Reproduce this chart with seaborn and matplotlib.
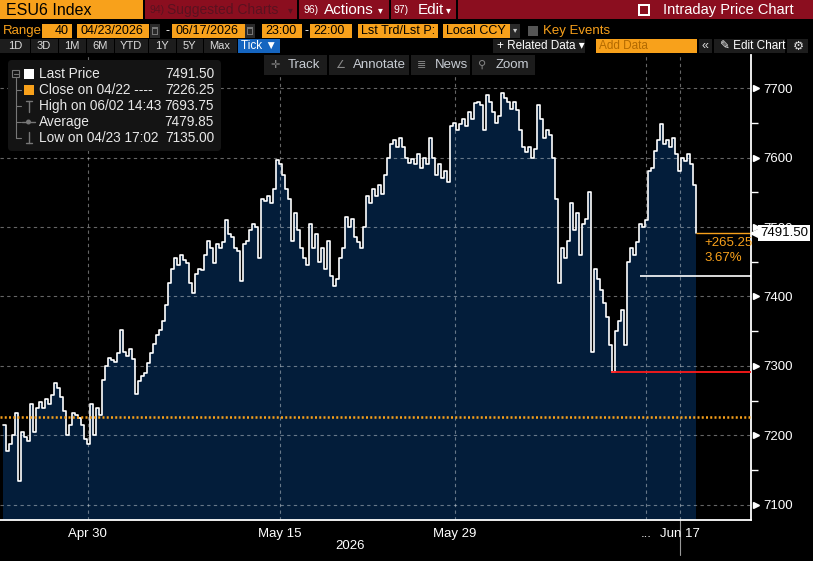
import matplotlib
matplotlib.use("Agg")
import matplotlib.pyplot as plt
from matplotlib.patches import Rectangle, Circle, FancyBboxPatch
import seaborn as sns
import pandas as pd

# tick-by-tick ESU6 prices (one value every ~3 px)
price = [
    7215, 7178, 7188, 7200, 7232, 7135, 7205, 7198, 7192, 7245,
    7205, 7240, 7248, 7240, 7252, 7245, 7258, 7275, 7268, 7255,
    7235, 7200, 7215, 7232, 7230, 7225, 7215, 7195, 7188, 7245,
    7200, 7240, 7230, 7280, 7300, 7312, 7308, 7306, 7318, 7352,
    7320, 7315, 7325, 7310, 7260, 7278, 7285, 7290, 7305, 7318,
    7332, 7345, 7352, 7365, 7388, 7420, 7440, 7455, 7445, 7460,
    7452, 7448, 7420, 7405, 7432, 7440, 7438, 7460, 7480, 7470,
    7448, 7475, 7470, 7478, 7510, 7490, 7485, 7470, 7465, 7422,
    7475, 7480, 7495, 7505, 7500, 7455, 7540, 7538, 7545, 7535,
    7555, 7597, 7590, 7575, 7555, 7540, 7480, 7520, 7495, 7470,
    7455, 7445, 7505, 7470, 7490, 7450, 7470, 7440, 7480, 7430,
    7415, 7425, 7455, 7470, 7515, 7500, 7512, 7485, 7478, 7470,
    7500, 7545, 7535, 7555, 7545, 7560, 7548, 7575, 7600, 7620,
    7625, 7615, 7628, 7615, 7600, 7592, 7598, 7590, 7605, 7585,
    7600, 7590, 7628, 7600, 7575, 7590, 7570, 7580, 7565, 7645,
    7650, 7640, 7648, 7655, 7645, 7665, 7655, 7678, 7680, 7675,
    7640, 7690, 7680, 7665, 7650, 7660, 7693, 7685, 7680, 7670,
    7680, 7668, 7640, 7615, 7608, 7615, 7600, 7612, 7676, 7655,
    7628, 7640, 7632, 7600, 7540, 7420, 7470, 7455, 7480, 7535,
    7495, 7520, 7460, 7505, 7512, 7550, 7320, 7440, 7425, 7410,
    7390, 7370, 7330, 7292, 7350, 7365, 7380, 7330, 7450, 7470,
    7460, 7478, 7505, 7500, 7510, 7580, 7585, 7610, 7625, 7648,
    7620, 7625, 7615, 7628, 7605, 7580, 7600, 7595, 7605, 7590,
    7560, 7491.5,
]
x_labels = ["Apr 30", "May 15", "May 29", "...", "Jun 17"]
x_label_idx = [28.3, 92.3, 150.7, 214.3, 225.7]
x_minor_idx = [63.3, 121.3, 185.3]
y_ticks = [7100, 7200, 7300, 7400, 7500, 7600, 7700]
y_minor = [7150, 7250, 7350, 7450, 7550, 7650]
prev_close = 7226.25
last_price = 7491.50
change = ["+265.25", "3.67%"]
low_line = (7291, 202.7)      # red level, start tick
mid_line = (7429, 212.3)      # white level, start tick
legend_names = ["Last Price", "Close on 04/22 ----", "High on 06/02 14:43",
                "Average", "Low on 04/23 17:02"]
legend_vals = ["7491.50", "7226.25", "7693.75", "7479.85", "7135.00"]

ORANGE = "#F8A11B"
NAVY = "#031D3A"
RED_BAR = "#8B0E1F"

sns.set_style("dark")
plt.rcParams["font.family"] = ["Liberation Sans", "DejaVu Sans"]
NARROW = ["Liberation Sans Narrow", "Liberation Sans", "DejaVu Sans"]

df = pd.DataFrame({"tick": range(len(price)), "price": price})

fig = plt.figure(figsize=(8.13, 5.61), dpi=100, facecolor="black")
ax = fig.add_axes([0, 41 / 561, 751 / 813, 465 / 561])
ax.set_facecolor("black")
ylo, yhi = 7078.4, 7747.5
xlo, xhi = -1, 249.33
ax.set_xlim(xlo, xhi)
ax.set_ylim(ylo, yhi)

ax.fill_between(df.tick, df.price, ylo, step="post", color=NAVY, lw=0, zorder=1)
sns.lineplot(data=df, x="tick", y="price", ax=ax, color="white", lw=1.2,
             drawstyle="steps-post", zorder=3)
ax.set_xlabel("")
ax.set_ylabel("")

# grid / axes
ax.set_xticks(x_label_idx)
ax.set_xticklabels(x_labels)
ax.set_xticks(x_minor_idx, minor=True)
ax.yaxis.tick_right()
ax.set_yticks(y_ticks)
ax.set_yticks(y_minor, minor=True)
ax.grid(True, which="major", color="white", alpha=0.4, ls=(0, (3, 3)), lw=0.8)
ax.set_axisbelow(False)
for s in ["left", "top"]:
    ax.spines[s].set_visible(False)
for s in ["right", "bottom"]:
    ax.spines[s].set_visible(True)
    ax.spines[s].set_color("white")
    ax.spines[s].set_linewidth(1.3)
ax.tick_params(axis="x", which="both", colors="white", length=4, width=1,
               direction="out", pad=2, labelsize=9.5)
ax.tick_params(axis="y", which="major", length=0, pad=9, labelcolor="white",
               labelsize=9.5)
ax.tick_params(axis="y", which="minor", length=5, width=1, color="white",
               direction="out")
for lab in ax.get_xticklabels() + ax.get_yticklabels():
    lab.set_family(NARROW)
ax.plot([1.006] * len(y_ticks), y_ticks, ls="none", marker=">", ms=5,
        color="white", transform=ax.get_yaxis_transform(), clip_on=False, zorder=5)

# reference lines
ax.axhline(prev_close, color=ORANGE, lw=1.8, ls=(0, (0.8, 0.9)), zorder=4)
n = len(price)
ax.hlines(last_price, n - 1, xhi, color=ORANGE, lw=1.0, zorder=4)
ax.hlines(low_line[0], low_line[1], xhi, color="#FF1A1A", lw=1.3, zorder=4)
ax.hlines(mid_line[0], mid_line[1], xhi, color="white", lw=1.2, zorder=4)
ax.annotate(change[0], xy=(n - 1, last_price), xytext=(6, -7),
            textcoords="offset points", color=ORANGE, fontsize=9.5,
            va="center", family=NARROW)
ax.annotate(change[1], xy=(n - 1, last_price), xytext=(6, -18),
            textcoords="offset points", color=ORANGE, fontsize=9.5,
            va="center", family=NARROW)
ax.plot([1.006], [last_price], ls="none", marker="<", ms=9, color="white",
        transform=ax.get_yaxis_transform(), clip_on=False, zorder=11)
ax.text(1.012, last_price, f"{last_price:.2f}", transform=ax.get_yaxis_transform(),
        color="black", fontsize=9.5, va="center", ha="left", family=NARROW,
        bbox=dict(boxstyle="square,pad=0.15", fc="white", ec="none"),
        clip_on=False, zorder=12)
ax.axvline(x_label_idx[-1], ymin=-0.075, ymax=0, clip_on=False, color="#999999", lw=0.8)

# ---- terminal chrome, drawn in pixel coordinates
ui = fig.add_axes([0, 0, 1, 1], zorder=10)
ui.set_xlim(0, 813)
ui.set_ylim(561, 0)
ui.axis("off")
ui.patch.set_alpha(0)


def box(x0, y0, x1, y1, color):
    ui.add_patch(Rectangle((x0, y0), x1 - x0, y1 - y0, color=color, lw=0))


def txt(x, y, s, color, size, ha="left", family=None, **kw):
    ui.text(x, y, s, color=color, fontsize=size, ha=ha, va="center",
            family=family or ["Liberation Sans", "DejaVu Sans"], **kw)


ui.text(350, 546, "2026", color="white", fontsize=9.5, ha="center", va="center",
        family=NARROW)

# row 1
box(0, 0, 143, 19, ORANGE)
txt(6, 10, "ESU6 Index", "black", 11.5)
box(145, 0, 813, 19, RED_BAR)
for xs in [298, 390, 457]:
    box(xs - 1, 0, xs + 1, 19, "black")
DIM = "#5a1220"
txt(149, 10, "94)", DIM, 7.5, family=NARROW)
txt(167, 10, "Suggested Charts", DIM, 10)
txt(290, 10, "▾", DIM, 7, ha="center")
txt(303, 10, "96)", "white", 7.5, family=NARROW)
txt(324, 10, "Actions", "white", 11)
txt(380, 10, "▾", "white", 7, ha="center")
txt(393, 10, "97)", "white", 7.5, family=NARROW)
txt(418, 10, "Edit", "white", 11)
txt(448, 10, "▾", "white", 7, ha="center")
box(638, 4, 650, 16, "white")
box(640, 6, 648, 14, RED_BAR)
txt(663, 10, "Intraday Price Chart", "white", 10.5)

# row 2
txt(3, 31, "Range", ORANGE, 9.5)
for x0, x1, s, ha in [(42, 72, "40", "right"), (77, 149, "04/23/2026", "left"),
                      (172, 245, "06/17/2026", "left"), (262, 302, "23:00", "left"),
                      (310, 352, "22:00", "left"), (358, 438, "Lst Trd/Lst P:", "left"),
                      (443, 510, "Local CCY", "left")]:
    box(x0, 24, x1, 38, ORANGE)
    txt(x1 - 3 if ha == "right" else x0 + 3, 31, s, "black", 9, ha=ha)
for x0 in [150, 245]:
    box(x0, 24, x0 + 10, 38, "#2a2a2a")
    box(x0 + 2, 27, x0 + 8, 35, "#777777")
    box(x0 + 3, 29, x0 + 7, 34, "#2a2a2a")
txt(167, 31, "-", "white", 9, ha="center")
txt(306, 31, "-", "white", 9, ha="center")
box(510, 24, 520, 38, "#2a2a2a")
txt(515, 31, "▾", "#cccccc", 6, ha="center")
box(528, 26, 538, 36, "#555555")
txt(543, 31, "Key Events", ORANGE, 9.5)

# row 3
box(0, 39, 280, 53, "#1d1d1d")
seps = [0, 30, 58, 86, 114, 148, 176, 203, 237]
btns = ["1D", "3D", "1M", "6M", "YTD", "1Y", "5Y", "Max"]
for (a, b), s in zip(zip(seps[:-1], seps[1:]), btns):
    box(b - 0.5, 39, b + 0.5, 53, "black")
    txt((a + b) / 2, 46, s, "#dddddd", 8, ha="center", family=NARROW)
box(238, 39, 280, 53, "#1565C0")
txt(259, 46, "Tick ▼", "white", 8.5, ha="center", family=NARROW)
box(493, 39, 585, 53, "#1d1d1d")
txt(497, 46, "+ Related Data ▾", "white", 8.5, family=NARROW)
box(596, 39, 697, 53, ORANGE)
txt(599, 46, "Add Data", "#b36a00", 8.5, family=NARROW)
box(699, 39, 712, 53, "#1d1d1d")
txt(705, 46, "«", "#dddddd", 9, ha="center")
box(714, 39, 785, 53, "#1d1d1d")
txt(720, 46, "✎ Edit Chart", "white", 8.5, family=NARROW)
box(787, 39, 808, 53, "#1d1d1d")
txt(798, 46, "⚙", "#dddddd", 9, ha="center", family=["DejaVu Sans"])

# chart toolbar
for x0, x1, icon, s in [(264, 327, "✛", "Track"), (329, 409, "∠", "Annotate"),
                        (411, 470, "≣", "News"), (472, 535, "⚲", "Zoom")]:
    box(x0, 55, x1, 75, "#1c1c1c")
    txt(x0 + 6, 65, icon, "#888888", 8, family=["DejaVu Sans"])
    txt(x0 + 24, 65, s, "#c8cdd4", 9.5)

# legend panel
ui.add_patch(FancyBboxPatch((8, 60), 213, 91, boxstyle="round,pad=0,rounding_size=4",
                            fc="#141414", ec="none"))
GR = "#777777"
ui.add_patch(Rectangle((12, 70), 7, 7, fill=False, ec=GR, lw=0.8))
ui.plot([13.5, 17.5], [73.5, 73.5], color=GR, lw=0.8)
ui.plot([16, 16], [78, 138], color=GR, lw=0.8)
for yy in [90, 106, 122, 138]:
    ui.plot([16, 21], [yy, yy], color=GR, lw=0.8)
box(24, 69, 34, 79, "white")
box(24, 85, 34, 95, ORANGE)
ui.plot([29, 29], [101, 112], color=GR, lw=1)
ui.plot([26, 32], [101, 101], color=GR, lw=1)
ui.plot([22, 35], [122, 122], color=GR, lw=1)
ui.add_patch(Circle((28.5, 122), 1.8, color=GR))
ui.plot([29, 29], [132, 143], color=GR, lw=1)
ui.plot([26, 32], [143, 143], color=GR, lw=1)
for k, (name, val) in enumerate(zip(legend_names, legend_vals)):
    yy = 74 + 16 * k
    txt(39, yy, name, "#e8e8e8", 9.8)
    txt(214, yy, val, "#e8e8e8", 9.8, ha="right")

fig.savefig("out.png", dpi=100, facecolor="black")
